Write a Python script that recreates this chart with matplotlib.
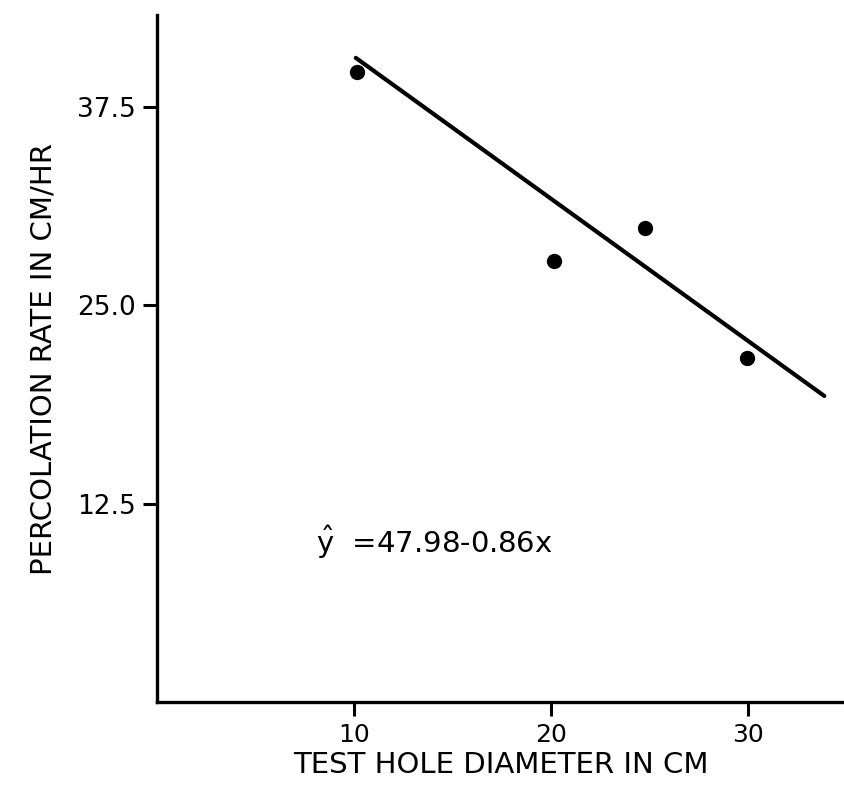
import matplotlib
matplotlib.use('Agg')
import matplotlib.pyplot as plt

diameter_cm = [10.15, 20.15, 24.8, 29.95]
perc_rate = [39.7, 27.8, 29.9, 21.7]

# drawn regression line (end points as drawn)
fit_x = [10.1, 33.9]
fit_y = [40.6, 19.3]

x_ticks = [10, 20, 30]
y_ticks = [12.5, 25.0, 37.5]
y_tick_labels = ['12.5', '25.0', '37.5']
equation = r'$\hat{\mathrm{y}}$  =47.98-0.86x'


def main():
    fig = plt.figure(figsize=(8.44, 7.9), dpi=100)
    ax = fig.add_axes([0.186, 0.111, 0.814, 0.870])

    ax.plot(fit_x, fit_y, color='black', lw=3, solid_capstyle='round')
    ax.plot(diameter_cm, perc_rate, 'o', color='black', markersize=10)

    ax.set_xlim(0, 34.9)
    ax.set_ylim(0, 43.3)

    for side in ['top', 'right']:
        ax.spines[side].set_visible(False)
    for side in ['left', 'bottom']:
        ax.spines[side].set_linewidth(2.4)

    ax.set_xticks(x_ticks)
    ax.set_yticks(y_ticks)
    ax.set_yticklabels(y_tick_labels)
    ax.tick_params(direction='out', length=10, width=2.2)
    ax.tick_params(axis='x', labelsize=18, pad=5)
    ax.tick_params(axis='y', labelsize=19, pad=5)

    font1 = {'size': 21}
    ax.set_xlabel('TEST HOLE DIAMETER IN CM', fontdict=font1, labelpad=3)
    ax.set_ylabel('PERCOLATION RATE IN CM/HR', fontdict=font1, labelpad=14)

    ax.text(8.1, 10.1, equation, fontsize=21, va='center', ha='left')

    fig.savefig('out.png', dpi=100)


if __name__ == "__main__":
    main()
